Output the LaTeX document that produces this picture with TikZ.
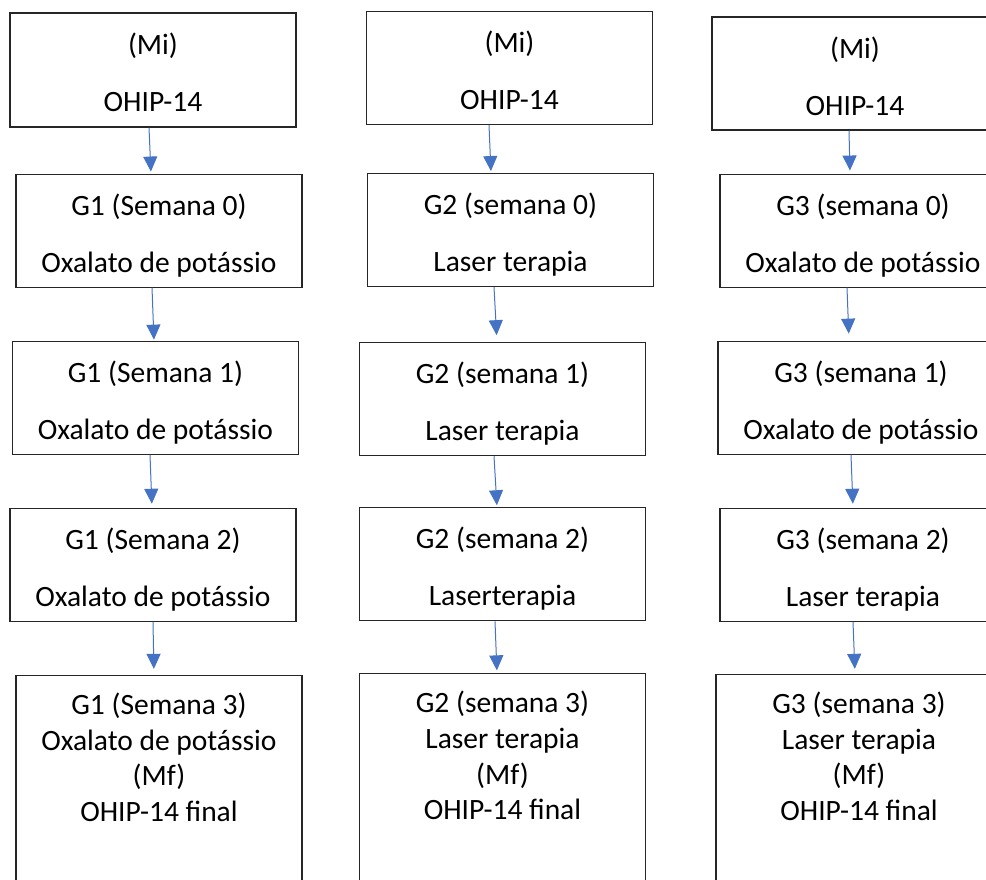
\documentclass[tikz,border=0pt]{standalone}
\usepackage{xcolor}
\usepackage{fontspec}
\setmainfont{Carlito}
\usepackage{tikz}
\usetikzlibrary{positioning,arrows.meta}

\definecolor{azul}{RGB}{68,114,196}

\begin{document}
\begin{tikzpicture}[x=1pt,y=-1pt,
    etapa/.style={draw=black!85,line width=1.1pt,minimum width=286pt,minimum height=113pt,
      inner sep=0pt,align=center,text height=98pt,text depth=15pt,
      font=\fontsize{29.5pt}{35.7pt}\selectfont},
    fim/.style={etapa,minimum height=0pt,text height=146pt,text depth=80pt},
    seta/.style={-{Triangle[length=15pt,width=14pt]},color=azul,line width=1pt}]
    \useasboundingbox (0,0) rectangle (986,879);
    \clip (0,0) rectangle (986,879);

    \node[etapa,minimum height=114pt] (m1) at (153,70) {(Mi)\\[21.3pt]OHIP-14};
    \node[etapa,below=46pt of m1,xshift=6pt] (g10) {G1 (Semana 0)\\[21.3pt]Oxalato de potássio};
    \node[etapa,below=53pt of g10,xshift=-3.5pt] (g11) {G1 (Semana 1)\\[21.3pt]Oxalato de potássio};
    \node[etapa,below=53pt of g11,xshift=-2.5pt] (g12) {G1 (Semana 2)\\[21.3pt]Oxalato de potássio};
    \node[fim,below=53pt of g12,xshift=6pt] (g13) {G1 (Semana 3)\\Oxalato de potássio\\(Mf)\\OHIP-14 final};

    \node[etapa,minimum height=112pt] (m2) at (509.5,68) {(Mi)\\[21.3pt]OHIP-14};
    \node[etapa,below=48pt of m2,xshift=1pt] (g20) {G2 (semana 0)\\[21.3pt]Laser terapia};
    \node[etapa,below=55pt of g20,xshift=-8pt] (g21) {G2 (semana 1)\\[21.3pt]Laser terapia};
    \node[etapa,below=51pt of g21] (g22) {G2 (semana 2)\\[21.3pt]Laserterapia};
    \node[fim,below=52pt of g22] (g23) {G2 (semana 3)\\Laser terapia\\(Mf)\\OHIP-14 final};

    \node[etapa] (m3) at (855,73.5) {(Mi)\\[21.3pt]OHIP-14};
    \node[etapa,below=43pt of m3,xshift=8pt] (g30) {G3 (semana 0)\\[21.3pt]Oxalato de potássio};
    \node[etapa,below=53pt of g30,xshift=-2pt] (g31) {G3 (semana 1)\\[21.3pt]Oxalato de potássio};
    \node[etapa,below=53pt of g31,xshift=2pt] (g32) {G3 (semana 2)\\[21.3pt]Laser terapia};
    \node[fim,below=52pt of g32,xshift=-4pt] (g33) {G3 (semana 3)\\Laser terapia\\(Mf)\\OHIP-14 final};

    \draw[seta,shorten >=2pt] ([xshift=-4pt]m1.south) -- ([xshift=-8pt]g10.north);
    \draw[seta,shorten >=1pt] ([xshift=-7pt]g10.south) -- ([xshift=-1.5pt]g11.north);
    \draw[seta,shorten >=4pt] ([xshift=-5.5pt]g11.south) -- ([xshift=-1pt]g12.north);
    \draw[seta,shorten >=6pt] (g12.south) -- ([xshift=-5pt]g13.north);

    \draw[seta,shorten >=2pt] ([xshift=-20.5pt]m2.south) -- ([xshift=-19.5pt]g20.north);
    \draw[seta,shorten >=7pt] ([xshift=-16.5pt]g20.south) -- ([xshift=-5.5pt]g21.north);
    \draw[seta,shorten >=2pt] ([xshift=-8.5pt]g21.south) -- ([xshift=-5.5pt]g22.north);
    \draw[seta,shorten >=3pt] ([xshift=-7.5pt]g22.south) -- ([xshift=-5.5pt]g23.north);

    \draw[seta,shorten >=3pt] ([xshift=-6pt]m3.south) -- ([xshift=-13pt]g30.north);
    \draw[seta,shorten >=7pt] ([xshift=-16pt]g30.south) -- ([xshift=-12pt]g31.north);
    \draw[seta,shorten >=4pt] ([xshift=-10pt]g31.south) -- ([xshift=-10pt]g32.north);
    \draw[seta,shorten >=5pt] ([xshift=-10pt]g32.south) -- ([xshift=-4pt]g33.north);
\end{tikzpicture}
\end{document}
